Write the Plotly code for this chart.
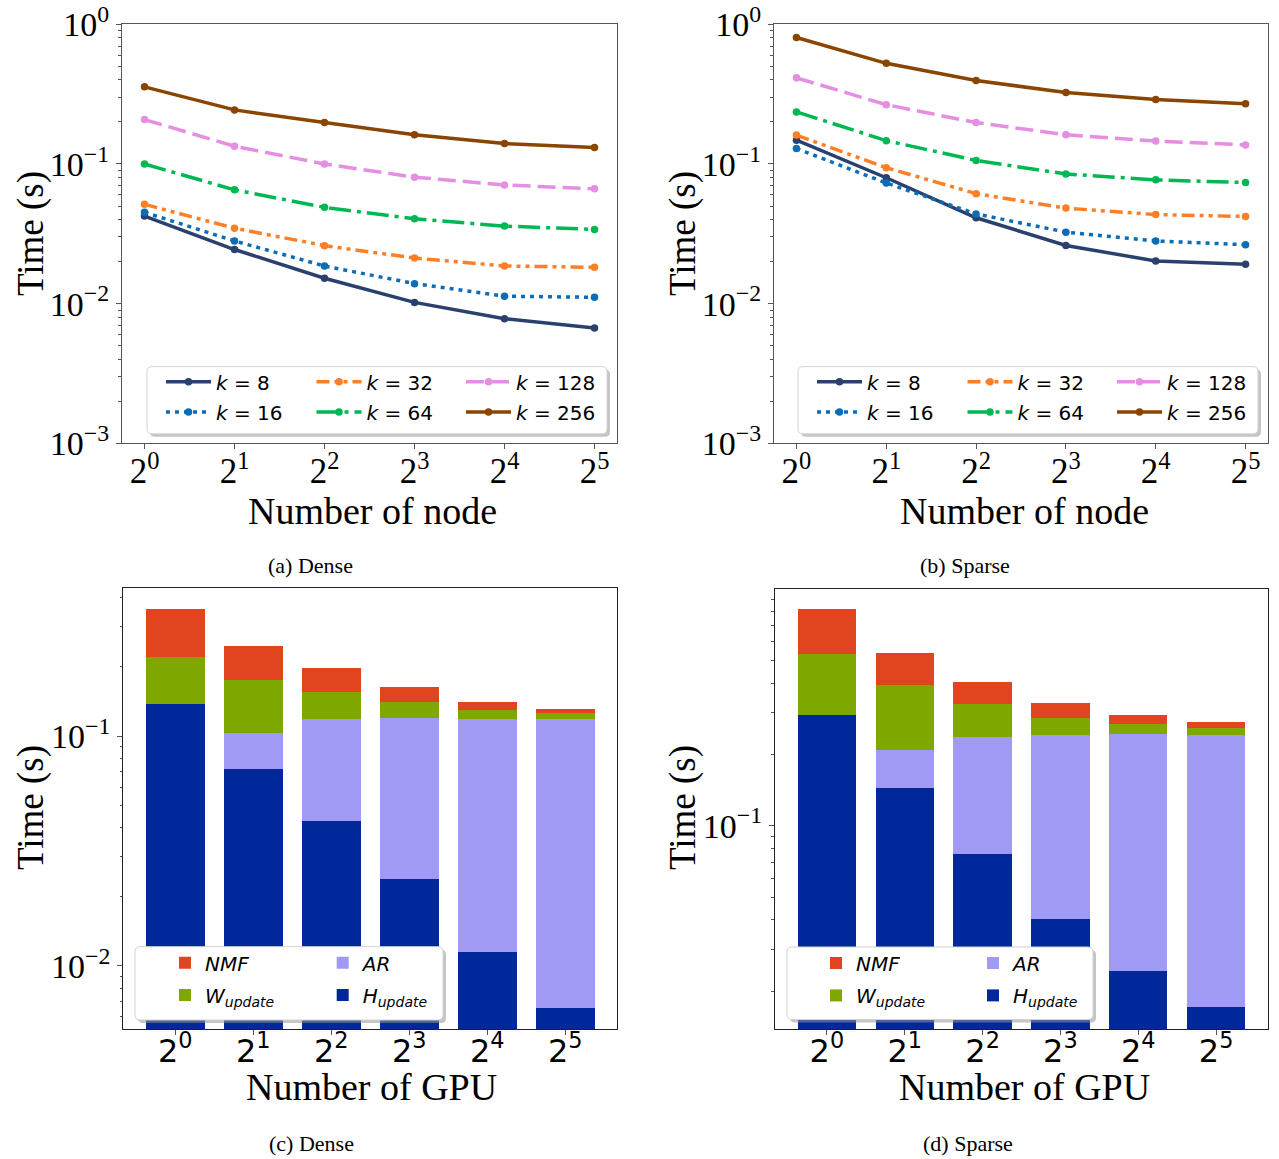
import math
import plotly.graph_objects as go

W, H = 1279, 1159

# ---------------- data ----------------
nodes = [1, 2, 4, 8, 16, 32]
node_ticktext = ["2<sup>0</sup>", "2<sup>1</sup>", "2<sup>2</sup>", "2<sup>3</sup>", "2<sup>4</sup>", "2<sup>5</sup>"]
k_names = ["<i>k</i> = 8", "<i>k</i> = 16", "<i>k</i> = 32", "<i>k</i> = 64", "<i>k</i> = 128", "<i>k</i> = 256"]

dense_k8 = [0.0424, 0.0244, 0.0152, 0.0102, 0.0078, 0.0067]
dense_k16 = [0.0451, 0.0281, 0.0186, 0.0139, 0.0113, 0.0111]
dense_k32 = [0.0514, 0.0347, 0.0260, 0.0212, 0.0186, 0.0182]
dense_k64 = [0.100, 0.0653, 0.0489, 0.0405, 0.0359, 0.0340]
dense_k128 = [0.208, 0.134, 0.100, 0.0805, 0.0707, 0.0664]
dense_k256 = [0.357, 0.244, 0.198, 0.162, 0.140, 0.131]

sparse_k8 = [0.148, 0.0797, 0.0412, 0.0261, 0.0202, 0.0191]
sparse_k16 = [0.129, 0.0731, 0.0439, 0.0325, 0.0281, 0.0264]
sparse_k32 = [0.161, 0.094, 0.0613, 0.0483, 0.0434, 0.0421]
sparse_k64 = [0.236, 0.147, 0.106, 0.0848, 0.0770, 0.0736]
sparse_k128 = [0.414, 0.266, 0.198, 0.162, 0.146, 0.137]
sparse_k256 = [0.806, 0.526, 0.396, 0.325, 0.290, 0.270]

gpu_pos = [0, 1, 2, 3, 4, 5]
gpu_ticktext = node_ticktext

dense_H = [0.138, 0.0721, 0.0428, 0.0239, 0.0115, 0.00657]
dense_AR = [0.0, 0.0312, 0.0762, 0.0961, 0.1075, 0.1124]
dense_W = [0.084, 0.0717, 0.037, 0.021, 0.011, 0.007]
dense_NMF = [0.137, 0.071, 0.042, 0.022, 0.011, 0.005]

sparse_H = [0.293, 0.144, 0.0759, 0.0405, 0.0244, 0.0171]
sparse_AR = [0.0, 0.065, 0.160, 0.2015, 0.2186, 0.2249]
sparse_W = [0.235, 0.182, 0.092, 0.044, 0.025, 0.016]
sparse_NMF = [0.296, 0.144, 0.075, 0.042, 0.025, 0.015]

bar_names = {"NMF": "<i>NMF</i>", "W": "<i>W</i><sub><i>update</i></sub>",
             "AR": "<i>AR</i>", "H": "<i>H</i><sub><i>update</i></sub>"}

# ---------------- styles ----------------
k_colors = ["#2a4170", "#0b6db7", "#ff7f27", "#00b853", "#e58ee2", "#8a4500"]
k_dash = ["solid", "4px,5px", "13px,5px,4px,5px,4px,5px", "22px,6px,4px,6px", "18px,7px", "solid"]
bar_colors = {"NMF": "#e04520", "W": "#7ea800", "AR": "#a19af4", "H": "#00289a"}

SERIF = "Liberation Serif"
SANS = "DejaVu Sans"
AXC = "#555555"


def px(x):
    return x / W


def py(y):
    return 1 - y / H


fig = go.Figure()

legend_layouts = {}
leg_counter = [0]


def new_legend(tx, ty, textgap, itemwidth=30):
    leg_counter[0] += 1
    n = leg_counter[0]
    key = "legend" if n == 1 else f"legend{n}"
    legend_layouts[key] = dict(
        x=px(tx - textgap), y=py(ty), xanchor="left", yanchor="middle",
        bgcolor="rgba(0,0,0,0)", borderwidth=0, itemwidth=itemwidth,
        font=dict(family=SANS, size=20, color="black"), visible=True,
    )
    return key


# line panels
line_sets = [
    ("x", "y", [dense_k8, dense_k16, dense_k32, dense_k64, dense_k128, dense_k256], 0),
    ("x2", "y2", [sparse_k8, sparse_k16, sparse_k32, sparse_k64, sparse_k128, sparse_k256], 651),
]
line_rows = [381.7, 412.0]
line_cols = [216, 366.5, 516]
for xa, ya, series, off in line_sets:
    for i, vals in enumerate(series):
        col = i // 2
        row = i % 2
        lg = new_legend(line_cols[col] + off, line_rows[row], 55, itemwidth=45)
        fig.add_trace(go.Scatter(
            x=nodes, y=vals, name=k_names[i], xaxis=xa, yaxis=ya,
            mode="lines+markers",
            line=dict(color=k_colors[i], width=3.5, dash=k_dash[i]),
            marker=dict(color=k_colors[i], size=7.5),
            legend=lg, showlegend=True,
        ))

# bar panels
bar_sets = [
    ("x3", "y3", dict(H=dense_H, AR=dense_AR, W=dense_W, NMF=dense_NMF), [205, 362.7], [962.7, 995.0]),
    ("x4", "y4", dict(H=sparse_H, AR=sparse_AR, W=sparse_W, NMF=sparse_NMF), [856, 1013], [963.0, 995.4]),
]
bar_slots = {"NMF": (0, 0), "W": (0, 1), "AR": (1, 0), "H": (1, 1)}
for xa, ya, d, cols, rows in bar_sets:
    for key in ["H", "AR", "W", "NMF"]:
        c, r = bar_slots[key]
        lg = new_legend(cols[c], rows[r], 40)
        fig.add_trace(go.Bar(
            x=gpu_pos, y=d[key], name=bar_names[key], xaxis=xa, yaxis=ya,
            width=0.75, marker=dict(color=bar_colors[key], line=dict(width=0)),
            legend=lg, showlegend=True,
        ))

# ---------------- axes ----------------
def dom_x(a, b):
    return [px(a), px(b)]


def dom_y(top, bottom):
    return [py(bottom), py(top)]


def minor_vals(lo_exp, hi_exp):
    out = []
    for e in range(lo_exp, hi_exp):
        for m in range(2, 10):
            out.append(m * 10 ** e)
    return out


common_axis = dict(showline=True, mirror=True, linecolor=AXC, linewidth=1.2,
                   showgrid=False, zeroline=False, ticks="outside", ticklen=5,
                   tickcolor=AXC, tickwidth=1, ticklabeloverflow="allow",
                   automargin=False)

l2 = math.log10(2)
xr = [-0.25 * l2, 5.25 * l2]
ylog_ticks = [1e-3, 1e-2, 1e-1, 1]
ylog_text = ["10<sup>−3</sup>", "10<sup>−2</sup>", "10<sup>−1</sup>", "10<sup>0</sup>"]

layout_axes = {}
for n, (x0, x1) in zip(["", "2"], [(122, 617), (774, 1268)]):
    layout_axes["xaxis" + n] = dict(
        common_axis, type="log", domain=dom_x(x0, x1), range=xr,
        anchor="y" + n, tickvals=nodes, ticktext=node_ticktext,
        tickfont=dict(family=SERIF, size=35, color="black"),
        ticklabelstandoff=-8,
    )
    layout_axes["yaxis" + n] = dict(
        common_axis, type="log", domain=dom_y(24.3, 443.3), range=[-3.0005, 0.0005],
        anchor="x" + n, tickvals=ylog_ticks, ticktext=ylog_text,
        tickfont=dict(family=SERIF, size=34, color="black"),
        minor=dict(tickmode="array", tickvals=minor_vals(-3, 0), ticks="outside",
                   ticklen=2.5, tickcolor=AXC, showgrid=False),
    )

bar_axes = [("3", (123.3, 617.3), (587.7, 1029.3), [-2.276, -0.354], [0.01, 0.1],
             ["10<sup>−2</sup>", "10<sup>−1</sup>"], minor_vals(-3, 0)),
            ("4", (775, 1268), (589, 1029), [-1.858, -0.001], [0.1],
             ["10<sup>−1</sup>"], minor_vals(-2, 0))]
for n, (x0, x1), (t, b), yr, tv, tt, mv in bar_axes:
    layout_axes["xaxis" + n] = dict(
        common_axis, type="linear", domain=dom_x(x0, x1), range=[-0.667, 5.667],
        anchor="y" + n, tickvals=gpu_pos, ticktext=gpu_ticktext,
        linecolor="#222222", ticklabelstandoff=-12,
        tickfont=dict(family=SANS, size=32, color="black"),
    )
    layout_axes["yaxis" + n] = dict(
        common_axis, type="log", domain=dom_y(t, b), range=yr,
        anchor="x" + n, tickvals=tv, ticktext=tt, linecolor="#222222",
        tickfont=dict(family=SERIF, size=34, color="black"),
        minor=dict(tickmode="array", tickvals=mv, ticks="outside",
                   ticklen=2.5, tickcolor=AXC, showgrid=False),
    )

# ---------------- legend boxes (rounded, with shadow) ----------------
def rrect(x0, y0, x1, y1, r=5):
    pts = (f"M {px(x0 + r)},{py(y0)} L {px(x1 - r)},{py(y0)} "
           f"Q {px(x1)},{py(y0)} {px(x1)},{py(y0 + r)} "
           f"L {px(x1)},{py(y1 - r)} Q {px(x1)},{py(y1)} {px(x1 - r)},{py(y1)} "
           f"L {px(x0 + r)},{py(y1)} Q {px(x0)},{py(y1)} {px(x0)},{py(y1 - r)} "
           f"L {px(x0)},{py(y0 + r)} Q {px(x0)},{py(y0)} {px(x0 + r)},{py(y0)} Z")
    return pts


boxes = [(147, 366.6, 607, 433.8), (798, 366.6, 1258, 433.8),
         (135, 946.7, 443, 1020), (787, 947, 1093, 1019.5)]
shapes = []
for (x0, y0, x1, y1) in boxes:
    shapes.append(dict(type="path", xref="paper", yref="paper", layer="above",
                       path=rrect(x0 + 3, y0 + 3, x1 + 3, y1 + 3),
                       fillcolor="rgba(150,150,150,0.55)", line=dict(width=0)))
    shapes.append(dict(type="path", xref="paper", yref="paper", layer="above",
                       path=rrect(x0, y0, x1, y1),
                       fillcolor="white", line=dict(color="#d3d3d3", width=1)))

# ---------------- titles / captions ----------------
ann = []
for xc, yc in [(31, 234), (683, 234), (31, 808), (683, 808)]:
    ann.append(dict(text="Time (s)", x=px(xc), y=py(yc), xref="paper", yref="paper",
                    textangle=-90, showarrow=False, xanchor="center", yanchor="middle",
                    font=dict(family=SERIF, size=37, color="black")))
for txt, xc, yc in [("Number of node", 372, 511), ("Number of node", 1024, 511),
                    ("Number of GPU", 371, 1087), ("Number of GPU", 1024, 1087)]:
    ann.append(dict(text=txt, x=px(xc), y=py(yc), xref="paper", yref="paper",
                    showarrow=False, xanchor="center", yanchor="middle",
                    font=dict(family=SERIF, size=38, color="black")))
for txt, xc, yc in [("(a) Dense", 310, 565), ("(b) Sparse", 965, 565),
                    ("(c) Dense", 311, 1143), ("(d) Sparse", 968, 1143)]:
    ann.append(dict(text=txt, x=px(xc), y=py(yc), xref="paper", yref="paper",
                    showarrow=False, xanchor="center", yanchor="middle",
                    font=dict(family=SERIF, size=22, color="black")))

fig.update_layout(
    width=W, height=H, margin=dict(l=0, r=0, t=0, b=0, autoexpand=False),
    paper_bgcolor="white", plot_bgcolor="white",
    barmode="stack", bargap=0.25, showlegend=True,
    shapes=shapes, annotations=ann,
    **layout_axes, **legend_layouts,
)

fig.write_html(
    "out.html",
    config={"displayModeBar": False},
    post_script=(
        "document.documentElement.style.cssText='margin:0;padding:0;overflow:hidden;height:1159px;';"
        "document.body.style.cssText='margin:0;padding:0;overflow:hidden;height:1159px;"
        "font-size:0;line-height:0;';"
    ),
)
